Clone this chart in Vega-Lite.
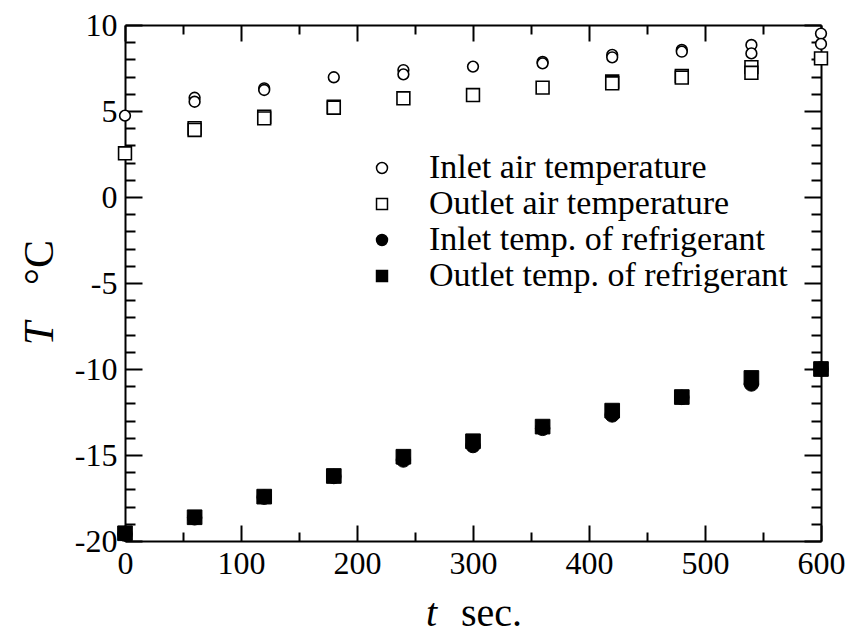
{
  "$schema": "https://vega.github.io/schema/vega-lite/v6.json",
  "width": 696,
  "height": 516,
  "autosize": {"type": "none"},
  "padding": {"left": 125, "top": 25, "right": 32, "bottom": 96},
  "background": "white",
  "config": {
    "font": "Liberation Serif",
    "view": {"stroke": null},
    "axis": {
      "grid": false,
      "domainColor": "black",
      "domainWidth": 2,
      "tickColor": "black",
      "tickWidth": 2,
      "labelColor": "black",
      "labelFont": "Liberation Serif",
      "labelFontSize": 32,
      "titleColor": "black",
      "titleFont": "Liberation Serif",
      "titleFontWeight": "normal",
      "labelFlush": false,
      "labelOverlap": false
    },
    "legend": {
      "labelFont": "Liberation Serif",
      "labelFontSize": 34,
      "labelColor": "black",
      "labelLimit": 0,
      "symbolSize": 120,
      "symbolStrokeWidth": 1.5,
      "labelOffset": 30,
      "rowPadding": 2
    }
  },
  "datasets": {
    "temps": [
      {"t": 0, "T": 4.73, "series": "Inlet air temperature"},
      {"t": 60, "T": 5.77, "series": "Inlet air temperature"},
      {"t": 60, "T": 5.54, "series": "Inlet air temperature"},
      {"t": 120, "T": 6.32, "series": "Inlet air temperature"},
      {"t": 120, "T": 6.22, "series": "Inlet air temperature"},
      {"t": 180, "T": 6.96, "series": "Inlet air temperature"},
      {"t": 240, "T": 7.38, "series": "Inlet air temperature"},
      {"t": 240, "T": 7.13, "series": "Inlet air temperature"},
      {"t": 300, "T": 7.58, "series": "Inlet air temperature"},
      {"t": 360, "T": 7.85, "series": "Inlet air temperature"},
      {"t": 360, "T": 7.77, "series": "Inlet air temperature"},
      {"t": 420, "T": 8.26, "series": "Inlet air temperature"},
      {"t": 420, "T": 8.12, "series": "Inlet air temperature"},
      {"t": 480, "T": 8.55, "series": "Inlet air temperature"},
      {"t": 480, "T": 8.45, "series": "Inlet air temperature"},
      {"t": 540, "T": 8.84, "series": "Inlet air temperature"},
      {"t": 540, "T": 8.35, "series": "Inlet air temperature"},
      {"t": 600, "T": 9.5, "series": "Inlet air temperature"},
      {"t": 600, "T": 8.9, "series": "Inlet air temperature"},
      {"t": 0, "T": 2.54, "series": "Outlet air temperature"},
      {"t": 60, "T": 4.0, "series": "Outlet air temperature"},
      {"t": 60, "T": 3.9, "series": "Outlet air temperature"},
      {"t": 120, "T": 4.67, "series": "Outlet air temperature"},
      {"t": 120, "T": 4.57, "series": "Outlet air temperature"},
      {"t": 180, "T": 5.25, "series": "Outlet air temperature"},
      {"t": 180, "T": 5.19, "series": "Outlet air temperature"},
      {"t": 240, "T": 5.74, "series": "Outlet air temperature"},
      {"t": 300, "T": 5.93, "series": "Outlet air temperature"},
      {"t": 360, "T": 6.36, "series": "Outlet air temperature"},
      {"t": 420, "T": 6.71, "series": "Outlet air temperature"},
      {"t": 420, "T": 6.61, "series": "Outlet air temperature"},
      {"t": 480, "T": 7.03, "series": "Outlet air temperature"},
      {"t": 480, "T": 6.94, "series": "Outlet air temperature"},
      {"t": 540, "T": 7.55, "series": "Outlet air temperature"},
      {"t": 540, "T": 7.22, "series": "Outlet air temperature"},
      {"t": 600, "T": 8.06, "series": "Outlet air temperature"},
      {"t": 0, "T": -19.6, "series": "Inlet temp. of refrigerant"},
      {"t": 60, "T": -18.65, "series": "Inlet temp. of refrigerant"},
      {"t": 120, "T": -17.45, "series": "Inlet temp. of refrigerant"},
      {"t": 180, "T": -16.25, "series": "Inlet temp. of refrigerant"},
      {"t": 240, "T": -15.29, "series": "Inlet temp. of refrigerant"},
      {"t": 300, "T": -14.45, "series": "Inlet temp. of refrigerant"},
      {"t": 360, "T": -13.45, "series": "Inlet temp. of refrigerant"},
      {"t": 420, "T": -12.67, "series": "Inlet temp. of refrigerant"},
      {"t": 480, "T": -11.65, "series": "Inlet temp. of refrigerant"},
      {"t": 540, "T": -10.87, "series": "Inlet temp. of refrigerant"},
      {"t": 600, "T": -10.0, "series": "Inlet temp. of refrigerant"},
      {"t": 0, "T": -19.55, "series": "Outlet temp. of refrigerant"},
      {"t": 60, "T": -18.62, "series": "Outlet temp. of refrigerant"},
      {"t": 120, "T": -17.42, "series": "Outlet temp. of refrigerant"},
      {"t": 180, "T": -16.22, "series": "Outlet temp. of refrigerant"},
      {"t": 240, "T": -15.1, "series": "Outlet temp. of refrigerant"},
      {"t": 300, "T": -14.2, "series": "Outlet temp. of refrigerant"},
      {"t": 360, "T": -13.35, "series": "Outlet temp. of refrigerant"},
      {"t": 420, "T": -12.42, "series": "Outlet temp. of refrigerant"},
      {"t": 480, "T": -11.63, "series": "Outlet temp. of refrigerant"},
      {"t": 540, "T": -10.52, "series": "Outlet temp. of refrigerant"},
      {"t": 600, "T": -10.0, "series": "Outlet temp. of refrigerant"}
    ]
  },
  "data": {"name": "temps"},
  "resolve": {"axis": {"x": "independent", "y": "independent"}},
  "layer": [
    {
      "description": "Bottom and left axes: major ticks, numbers, upright part of the titles",
      "mark": {"type": "point", "opacity": 0},
      "encoding": {
        "x": {"field": "t", "type": "quantitative",
          "scale": {"domain": [0, 600], "nice": false, "zero": false},
          "axis": {"orient": "bottom", "values": [0, 100, 200, 300, 400, 500, 600],
            "tickSize": -16, "labelPadding": 23, "labelExpr": "'' + datum.value",
            "title": "sec.", "titleX": 366, "titleY": 84, "titleAngle": 0,
            "titleAlign": "center", "titleBaseline": "alphabetic", "titleFontSize": 40}},
        "y": {"field": "T", "type": "quantitative",
          "scale": {"domain": [-20, 10], "nice": false, "zero": false},
          "axis": {"orient": "left", "values": [-20, -15, -10, -5, 0, 5, 10],
            "tickSize": -17, "labelPadding": 25, "labelExpr": "'' + datum.value",
            "title": "°C", "titleX": -73, "titleY": 237, "titleAngle": -90,
            "titleAlign": "center", "titleBaseline": "alphabetic", "titleFontSize": 42}}
      }
    },
    {
      "description": "Top and right frame with major ticks",
      "mark": {"type": "point", "opacity": 0},
      "encoding": {
        "x": {"field": "t", "type": "quantitative",
          "axis": {"orient": "top", "values": [0, 100, 200, 300, 400, 500, 600],
            "tickSize": -16, "labels": false, "title": null}},
        "y": {"field": "T", "type": "quantitative",
          "axis": {"orient": "right", "values": [-20, -15, -10, -5, 0, 5, 10],
            "tickSize": -17, "labels": false, "title": null}}
      }
    },
    {
      "description": "Bottom and left minor ticks, italic symbols of the titles",
      "mark": {"type": "point", "opacity": 0},
      "encoding": {
        "x": {"field": "t", "type": "quantitative",
          "axis": {"orient": "bottom", "values": [50, 150, 250, 350, 450, 550],
            "tickSize": -9, "labels": false, "domain": false,
            "title": "t", "titleFontStyle": "italic", "titleX": 306, "titleY": 84, "titleAngle": 0,
            "titleAlign": "center", "titleBaseline": "alphabetic", "titleFontSize": 40}},
        "y": {"field": "T", "type": "quantitative",
          "axis": {"orient": "left",
            "values": [-19, -18, -17, -16, -14, -13, -12, -11, -9, -8, -7, -6, -4, -3, -2, -1, 1, 2, 3, 4, 6, 7, 8, 9],
            "tickSize": -10, "labels": false, "domain": false,
            "title": "T", "titleFontStyle": "italic", "titleX": -73, "titleY": 308, "titleAngle": -90,
            "titleAlign": "center", "titleBaseline": "alphabetic", "titleFontSize": 42}}
      }
    },
    {
      "description": "Top and right minor ticks",
      "mark": {"type": "point", "opacity": 0},
      "encoding": {
        "x": {"field": "t", "type": "quantitative",
          "axis": {"orient": "top", "values": [50, 150, 250, 350, 450, 550],
            "tickSize": -9, "labels": false, "domain": false, "title": null}},
        "y": {"field": "T", "type": "quantitative",
          "axis": {"orient": "right",
            "values": [-19, -18, -17, -16, -14, -13, -12, -11, -9, -8, -7, -6, -4, -3, -2, -1, 1, 2, 3, 4, 6, 7, 8, 9],
            "tickSize": -10, "labels": false, "domain": false, "title": null}}
      }
    },
    {
      "transform": [{"filter": "datum.series === 'Inlet air temperature'"}],
      "mark": {"type": "point", "filled": true, "size": 115, "strokeWidth": 1.6, "opacity": 1},
      "encoding": {
        "x": {"field": "t", "type": "quantitative", "axis": null},
        "y": {"field": "T", "type": "quantitative", "axis": null},
        "shape": {"field": "series", "type": "nominal",
          "scale": {"domain": ["Inlet air temperature", "Outlet air temperature", "Inlet temp. of refrigerant", "Outlet temp. of refrigerant"],
            "range": ["circle", "square", "circle", "square"]},
          "legend": {"title": null, "orient": "none", "legendX": 240, "legendY": 126}},
        "fill": {"field": "series", "type": "nominal",
          "scale": {"domain": ["Inlet air temperature", "Outlet air temperature", "Inlet temp. of refrigerant", "Outlet temp. of refrigerant"],
            "range": ["white", "white", "black", "black"]},
          "legend": {"title": null, "orient": "none", "legendX": 240, "legendY": 126}},
        "stroke": {"field": "series", "type": "nominal",
          "scale": {"domain": ["Inlet air temperature", "Outlet air temperature", "Inlet temp. of refrigerant", "Outlet temp. of refrigerant"],
            "range": ["black", "black", "black", "black"]},
          "legend": {"title": null, "orient": "none", "legendX": 240, "legendY": 126}}
      }
    },
    {
      "transform": [{"filter": "datum.series === 'Outlet air temperature'"}],
      "mark": {"type": "point", "filled": true, "size": 165, "strokeWidth": 1.6, "opacity": 1},
      "encoding": {
        "x": {"field": "t", "type": "quantitative", "axis": null},
        "y": {"field": "T", "type": "quantitative", "axis": null},
        "shape": {"field": "series", "type": "nominal"},
        "fill": {"field": "series", "type": "nominal"},
        "stroke": {"field": "series", "type": "nominal"}
      }
    },
    {
      "transform": [{"filter": "datum.series === 'Inlet temp. of refrigerant'"}],
      "mark": {"type": "point", "filled": true, "size": 210, "strokeWidth": 1, "opacity": 1},
      "encoding": {
        "x": {"field": "t", "type": "quantitative", "axis": null},
        "y": {"field": "T", "type": "quantitative", "axis": null},
        "shape": {"field": "series", "type": "nominal"},
        "fill": {"field": "series", "type": "nominal"},
        "stroke": {"field": "series", "type": "nominal"}
      }
    },
    {
      "transform": [{"filter": "datum.series === 'Outlet temp. of refrigerant'"}],
      "mark": {"type": "point", "filled": true, "size": 215, "strokeWidth": 1, "opacity": 1},
      "encoding": {
        "x": {"field": "t", "type": "quantitative", "axis": null},
        "y": {"field": "T", "type": "quantitative", "axis": null},
        "shape": {"field": "series", "type": "nominal"},
        "fill": {"field": "series", "type": "nominal"},
        "stroke": {"field": "series", "type": "nominal"}
      }
    }
  ]
}
